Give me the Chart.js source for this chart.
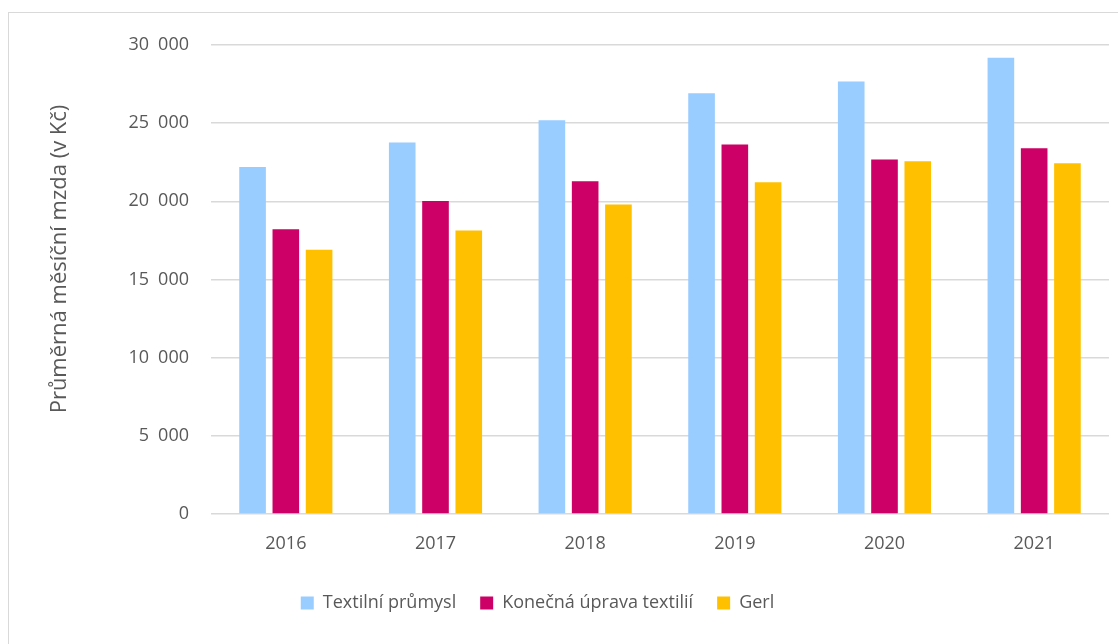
<!DOCTYPE html>
<html>
<head>
<meta charset="utf-8">
<script src="https://cdn.jsdelivr.net/npm/chart.js@4.4.1/dist/chart.umd.min.js"></script>
<style>
    html, body { margin: 0; padding: 0; background: #fff; overflow: hidden; }
    #frame { position: absolute; left: 8px; top: 12px; width: 1200px; height: 700px; border: 1.5px solid #d9d9d9; }
    #wrap { position: absolute; left: 0; top: 0; width: 1118px; height: 644px; }
</style>
</head>
<body>
<div id="frame"></div>
<div id="wrap"><canvas id="wageChart"></canvas></div>
<script>
const years = ["2016", "2017", "2018", "2019", "2020", "2021"];
const textilniPrumysl = [22200, 23760, 25190, 26920, 27670, 29190];
const konecnaUprava = [18220, 20020, 21280, 23630, 22670, 23400];
const gerl = [16900, 18140, 19790, 21220, 22560, 22440];
const yTicks = [0, 5000, 10000, 15000, 20000, 25000, 30000];
const yTitle = "Průměrná měsíční mzda (v Kč)";

const textColor = "#595959";
const fontFamily = "'Open Sans', sans-serif";

function fmt(v) {
    return v.toString().replace(/\B(?=(\d{3})+(?!\d))/g, "\u2002");
}

// rotated axis title, placed like the original
const yTitlePlugin = {
    id: "yTitle",
    afterDraw(chart) {
        const ctx = chart.ctx;
        ctx.save();
        ctx.translate(60, 259);
        ctx.rotate(-Math.PI / 2);
        ctx.font = "22px " + fontFamily;
        ctx.fillStyle = textColor;
        ctx.textAlign = "center";
        ctx.textBaseline = "middle";
        ctx.fillText(yTitle, 0, 0);
        ctx.restore();
    }
};

// legend in the original is a bit left of the canvas centre
const legendShift = {
    id: "legendShift",
    afterLayout(chart) {
        const lg = chart.legend;
        if (!lg) return;
        lg.left -= 17;
        lg.right -= 17;
    }
};

const canvas = document.getElementById("wageChart");

new Chart(canvas, {
    type: "bar",
    data: {
        labels: years,
        datasets: [
            { label: "Textilní průmysl", data: textilniPrumysl, backgroundColor: "#99ccff" },
            { label: "Konečná úprava textilií", data: konecnaUprava, backgroundColor: "#cc0066" },
            { label: "Gerl", data: gerl, backgroundColor: "#ffc000" }
        ]
    },
    options: {
        responsive: true,
        maintainAspectRatio: false,
        animation: false,
        categoryPercentage: 0.667,
        barPercentage: 0.8,
        layout: { padding: { top: 45, right: 9, bottom: 22, left: 0 } },
        scales: {
            x: {
                grid: { display: false },
                border: { display: false },
                ticks: { color: textColor, font: { family: fontFamily, size: 18 }, padding: 11 },
                afterFit(scale) { scale.height = 56; }
            },
            y: {
                min: 0,
                max: 30000,
                afterBuildTicks(scale) { scale.ticks = yTicks.map(v => ({ value: v })); },
                grid: { color: "#d9d9d9", lineWidth: 1.5, drawTicks: false },
                border: { display: false },
                ticks: {
                    color: textColor,
                    font: { family: fontFamily, size: 18 },
                    padding: 22,
                    callback: v => fmt(v)
                },
                afterFit(scale) { scale.width = 211; }
            }
        },
        plugins: {
            legend: {
                position: "bottom",
                labels: {
                    color: textColor,
                    font: { family: fontFamily, size: 18 },
                    boxWidth: 13,
                    boxHeight: 13,
                    padding: 24
                }
            },
            tooltip: { enabled: false }
        }
    },
    plugins: [yTitlePlugin, legendShift]
});
</script>
</body>
</html>
